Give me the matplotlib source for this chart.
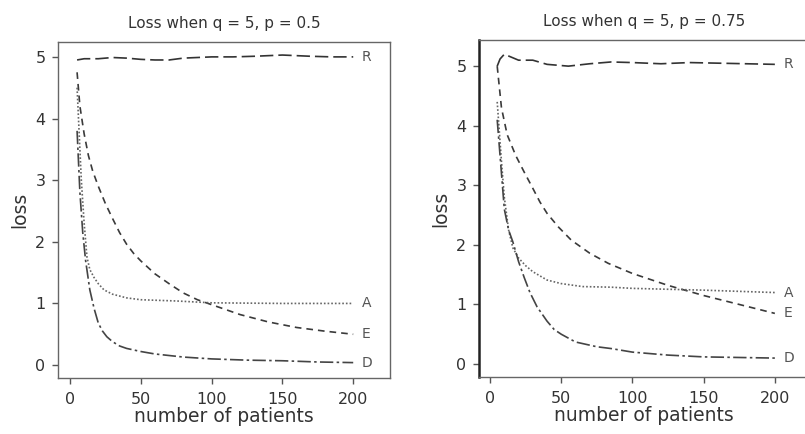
import matplotlib
matplotlib.use("Agg")
import matplotlib.pyplot as plt

plt.rcParams['font.family'] = ['DejaVu Sans']

# panel 1: q = 5, p = 0.5
r1_n = [5, 10, 20, 30, 40, 50, 60, 70, 80, 90, 100, 115, 130, 150, 170, 185, 200]
r1_loss = [4.95, 4.97, 4.97, 4.99, 4.98, 4.96, 4.95, 4.95, 4.98, 4.99, 5.0, 5.0, 5.01, 5.03, 5.01, 5.0, 5.0]
e1_n = [5, 7, 10, 13, 16, 20, 25, 30, 35, 40, 45, 50, 60, 70, 80, 90, 100, 120, 140, 160, 180, 200]
e1_loss = [4.75, 4.2, 3.75, 3.4, 3.15, 2.9, 2.62, 2.38, 2.15, 1.96, 1.81, 1.69, 1.48, 1.32, 1.17, 1.06, 0.98, 0.82, 0.70, 0.61, 0.55, 0.5]
a1_n = [5, 6, 8, 10, 12, 14, 17, 20, 24, 30, 40, 50, 75, 100, 150, 200]
a1_loss = [4.5, 4.0, 3.0, 2.3, 1.75, 1.55, 1.42, 1.32, 1.22, 1.15, 1.09, 1.06, 1.04, 1.01, 1.0, 1.0]
d1_n = [5, 7, 9, 11, 14, 17, 20, 23, 26, 30, 35, 40, 50, 60, 80, 100, 125, 150, 175, 200]
d1_loss = [3.8, 2.8, 2.15, 1.7, 1.22, 0.92, 0.68, 0.55, 0.46, 0.38, 0.31, 0.27, 0.22, 0.18, 0.13, 0.1, 0.08, 0.07, 0.05, 0.04]

# panel 2: q = 5, p = 0.75
r2_n = [5, 7, 10, 13, 20, 30, 40, 55, 70, 85, 100, 120, 140, 160, 180, 200]
r2_loss = [5.0, 5.12, 5.2, 5.17, 5.1, 5.1, 5.03, 5.0, 5.04, 5.07, 5.06, 5.04, 5.06, 5.05, 5.04, 5.03]
e2_n = [5, 8, 12, 18, 24, 30, 35, 40, 48, 57, 70, 83, 100, 125, 150, 175, 200]
e2_loss = [5.0, 4.3, 3.85, 3.5, 3.22, 2.95, 2.72, 2.53, 2.3, 2.08, 1.86, 1.69, 1.52, 1.32, 1.15, 1.0, 0.85]
a2_n = [5, 8, 10, 13, 16, 20, 25, 30, 40, 50, 65, 85, 100, 150, 200]
a2_loss = [4.4, 3.4, 2.8, 2.25, 1.95, 1.78, 1.65, 1.55, 1.41, 1.35, 1.3, 1.29, 1.27, 1.24, 1.2]
d2_n = [5, 8, 10, 13, 16, 20, 24, 28, 33, 40, 45, 50, 60, 75, 85, 100, 125, 150, 175, 200]
d2_loss = [4.1, 3.2, 2.6, 2.25, 2.05, 1.72, 1.45, 1.2, 0.96, 0.72, 0.58, 0.5, 0.37, 0.29, 0.26, 0.2, 0.15, 0.12, 0.11, 0.1]

titles = ['Loss when q = 5, p = 0.5', 'Loss when q = 5, p = 0.75']
x_ticks = [0, 50, 100, 150, 200]
y_ticks = [0, 1, 2, 3, 4, 5]

panels = [
    dict(R=(r1_n, r1_loss), E=(e1_n, e1_loss), A=(a1_n, a1_loss), D=(d1_n, d1_loss)),
    dict(R=(r2_n, r2_loss), E=(e2_n, e2_loss), A=(a2_n, a2_loss), D=(d2_n, d2_loss)),
]

styles = {
    'R': dict(color='#333333', dashes=(8, 3)),
    'E': dict(color='#3a3a3a', dashes=(4, 3)),
    'A': dict(color='#666666', dashes=(1, 1.2)),
    'D': dict(color='#444444', dashes=(8, 2, 1.5, 2)),
}

fig = plt.figure(figsize=(8.05, 4.34), dpi=100)
positions = [[0.072, 0.129, 0.4125, 0.774], [0.595, 0.131, 0.41, 0.777]]
xlims = [(-8.5, 226), (-7.8, 224)]
ylims = [(-0.21, 5.24), (-0.22, 5.44)]

for i, data in enumerate(panels):
    ax = fig.add_axes(positions[i])
    for key in ['R', 'E', 'A', 'D']:
        n, loss = data[key]
        ax.plot(n, loss, lw=1.2, **styles[key])
        ax.text(n[-1] + 6, loss[-1], key, fontsize=10, color='#555555',
                va='center', ha='left')
    ax.set_xlim(*xlims[i])
    ax.set_ylim(*ylims[i])
    ax.set_xticks(x_ticks)
    ax.set_yticks(y_ticks)
    ax.tick_params(direction='out', length=4, width=1, color='#555555',
                   labelsize=11.5, labelcolor='#333333')
    ax.tick_params(axis='x', pad=6)
    ax.tick_params(axis='y', pad=5)
    for s in ax.spines.values():
        s.set_color('#666666')
        s.set_linewidth(1)
    if i == 1:
        ax.spines['left'].set_color('#222222')
        ax.spines['left'].set_linewidth(1.8)
    ax.set_title(titles[i], fontsize=11, color='#333333', pad=10)
    ax.set_xlabel('number of patients', fontsize=13.5, color='#333333', labelpad=0)
    ax.set_ylabel('loss', fontsize=13.5, color='#333333', labelpad=4)

fig.savefig('out.png', dpi=100)
